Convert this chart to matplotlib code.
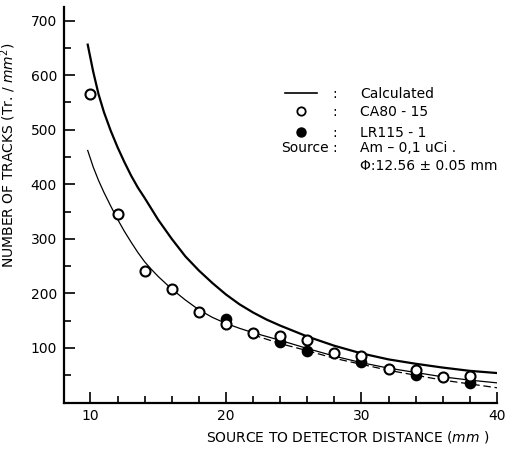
"""Track density vs source-to-detector distance for two SSNTD films."""

import matplotlib

matplotlib.use("Agg")
import matplotlib.pyplot as plt
from matplotlib.lines import Line2D

plt.rcParams["font.family"] = ["DejaVu Sans"]

calc_upper_d = [9.8, 10.2, 10.6, 11, 11.5, 12, 12.5, 13, 13.5, 14, 14.5, 15, 16, 17, 18, 19, 20,
                21, 22, 23, 24, 26, 28, 30, 32, 34, 36, 38, 40]
calc_upper_n = [656, 607, 565, 532, 498, 468, 441, 416, 394, 375, 355, 335, 300, 268, 242, 219, 198,
                180, 165, 152, 141, 121, 104, 90, 79, 71, 64, 58, 54]

calc_lower_d = [9.8, 10.2, 10.6, 11, 11.5, 12, 12.5, 13, 13.5, 14, 14.5, 15, 16, 17, 18, 19, 20,
                21, 22, 23, 24, 26, 28, 30, 32, 34, 36, 38, 40]
calc_lower_n = [462, 432, 407, 385, 360, 336, 314, 294, 275, 258, 244, 231, 208, 188, 170, 156, 145,
                136, 128, 121, 114, 99, 85, 73, 63, 55, 47, 41, 36]

calc_lr_d = [22, 24, 26, 28, 30, 32, 34, 36, 38, 40]
calc_lr_n = [124, 108, 95, 81, 70, 59, 50, 41, 34, 27]

# measured track densities
ca80_d = [10, 12, 14, 16, 18, 20, 22, 24, 26, 28, 30, 32, 34, 36, 38]
ca80_n = [566, 346, 241, 208, 166, 144, 128, 122, 114, 90, 85, 62, 59, 47, 48]

lr115_d = [20, 24, 26, 30, 34, 38]
lr115_n = [153, 111, 95, 74, 50, 36]

fig = plt.figure(figsize=(5.05, 4.49), dpi=100)
ax = fig.add_axes([64 / 505, 46.5 / 449, 433 / 505, 395.5 / 449])

ax.plot(calc_upper_d, calc_upper_n, color="black", lw=1.6)
ax.plot(calc_lower_d, calc_lower_n, color="black", lw=0.9)
ax.plot(calc_lr_d, calc_lr_n, color="black", lw=0.9, ls=(0, (6, 3)))
ax.plot(lr115_d, lr115_n, "o", ms=7.2, mfc="black", mec="black", mew=1.2)
ax.plot(ca80_d, ca80_n, "o", ms=7.2, mfc="white", mec="black", mew=1.5)

ax.set_xlim(8.05, 40)
ax.set_ylim(0, 725)
ax.set_xticks([10, 20, 30, 40])
ax.set_xticks(range(12, 40, 2), minor=True)
ax.set_yticks(range(100, 701, 100))
ax.set_yticks(range(50, 700, 100), minor=True)
ax.tick_params(which="both", direction="in", width=1.2, labelsize=10)
ax.tick_params(which="major", length=8, pad=5)
ax.tick_params(which="minor", length=5)
for side in ("top", "right"):
    ax.spines[side].set_visible(False)
for side in ("left", "bottom"):
    ax.spines[side].set_linewidth(1.6)

ax.set_xlabel("SOURCE TO DETECTOR DISTANCE ($\\it{mm}$ )", fontsize=10)
ax.xaxis.set_label_coords(0.655, -0.068)
ax.set_ylabel("NUMBER OF TRACKS (Tr. / $\\it{mm}^2$)", fontsize=10)
ax.yaxis.set_label_coords(-0.106, 0.626)

# key
tr = ax.transAxes
ax.add_line(Line2D([0.510, 0.584], [0.783, 0.783], transform=tr, color="black", lw=1.2))
ax.plot([0.547], [0.736], "o", transform=tr, ms=6, mfc="white", mec="black", mew=1.3)
ax.plot([0.547], [0.683], "o", transform=tr, ms=6.5, mfc="black", mec="black")
rows = [
    (0.780, "Calculated"),
    (0.734, "CA80 - 15"),
    (0.681, "LR115 - 1"),
    (0.643, "Am \u2013 0,1 uCi ."),
    (0.598, "\u03a6:12.56 \u00b1 0.05 mm"),
]
for y, txt in rows[:4]:
    ax.text(0.626, y, ":", transform=tr, fontsize=10, ha="center", va="center")
for y, txt in rows:
    ax.text(0.684, y, txt, transform=tr, fontsize=10, ha="left", va="center")
ax.text(0.612, 0.643, "Source", transform=tr, fontsize=10, ha="right", va="center")

fig.savefig("out.png", dpi=100)
